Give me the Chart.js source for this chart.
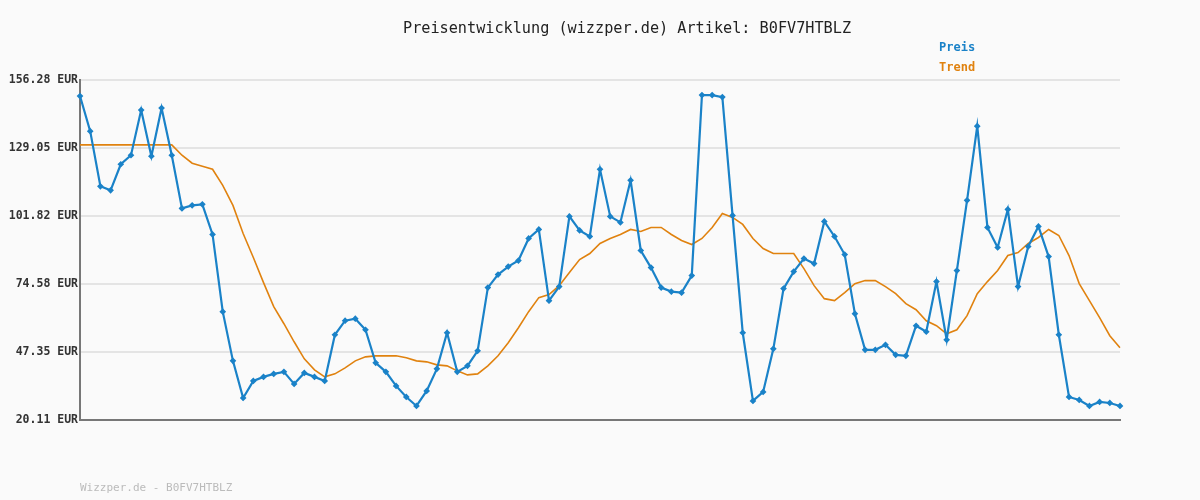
<!DOCTYPE html>
<html><head><meta charset="utf-8">
<script src="https://cdn.jsdelivr.net/npm/chart.js@4"></script>
<style>
body{margin:0;background:#fafafa;}
#wrap{position:relative;width:1200px;height:500px;}
.t{position:absolute;font-family:"DejaVu Sans Mono",monospace;white-space:nowrap;}
</style></head><body>
<div id="wrap">
<canvas id="c" width="1200" height="500"></canvas>
<div class="t" style="left:403px;top:19px;font-size:15.2px;color:#222;">Preisentwicklung (wizzper.de) Artikel: B0FV7HTBLZ</div>
<div class="t" style="left:939px;top:40px;font-size:12px;font-weight:bold;color:#1a82c8;">Preis</div>
<div class="t" style="left:939px;top:60px;font-size:12px;font-weight:bold;color:#e0820f;">Trend</div>
<div class="t" style="left:80px;top:481px;font-size:11px;color:#bbb;">Wizzper.de - B0FV7HTBLZ</div>
</div>
<script>
const categories = Array.from({length:103},(_, i)=>String(i+1));
const preis = [149.85,135.79,113.70,112.09,122.54,126.15,144.23,125.75,145.03,126.15,
104.86,106.07,106.47,94.42,63.49,43.80,28.94,35.77,37.38,38.58,
39.39,34.56,38.98,37.38,35.77,54.25,59.87,60.68,56.26,43.00,
39.39,33.76,29.34,25.73,31.75,40.59,55.05,39.39,41.80,47.82,
73.13,78.35,81.56,83.97,92.81,96.43,67.91,73.53,101.65,96.02,
93.61,120.53,101.65,99.24,116.11,87.99,81.16,73.13,71.52,71.12,
77.95,150.25,150.25,149.45,102.05,55.05,27.74,31.35,48.62,72.73,
79.56,84.78,82.77,99.64,93.61,86.38,62.68,48.22,48.22,50.23,
46.21,45.81,57.86,55.45,75.54,52.24,79.96,108.08,137.80,97.23,
89.20,104.46,73.53,89.60,97.63,85.58,54.25,29.34,28.14,25.73,
27.33,26.93,25.73];
const trend = [130.3,130.3,130.3,130.3,130.3,130.3,130.3,130.3,130.3,130.3,
126.15,122.94,121.73,120.53,114.10,106.07,94.82,85.18,75.14,65.50,
58.67,51.44,44.61,40.19,37.38,38.58,40.99,43.80,45.41,45.81,
45.81,45.81,45.01,43.80,43.40,42.20,41.80,39.79,38.18,38.58,
41.80,45.81,51.03,57.06,63.49,69.11,70.32,73.93,79.15,84.38,
86.79,90.80,92.81,94.42,96.43,95.63,97.23,97.23,94.42,92.01,
90.40,92.81,97.23,102.85,101.25,98.44,92.81,88.79,86.79,86.79,
86.79,80.76,73.93,68.71,67.91,71.12,74.73,75.94,75.94,73.53,
70.72,66.70,64.29,59.87,57.86,54.65,56.26,61.88,70.72,75.54,
79.96,85.98,87.19,90.80,93.21,96.43,94.02,85.98,74.73,67.91,
61.08,53.85,49.03];
const tickValues = [20.11,47.35,74.58,101.82,129.05,156.28];
const tickLabels = ["20.11 EUR","47.35 EUR","74.58 EUR","101.82 EUR","129.05 EUR","156.28 EUR"];

new Chart(document.getElementById('c'),{
  type:'line',
  data:{labels:categories,datasets:[
    {label:'Trend',data:trend,borderColor:'#e0820f',borderWidth:1.6,pointRadius:0,tension:0,order:2},
    {label:'Preis',data:preis,borderColor:'#1a82c8',backgroundColor:'#1a82c8',borderWidth:2.2,pointRadius:1.8,pointStyle:'rectRot',tension:0,order:1}
  ]},
  options:{
    responsive:false,animation:false,
    layout:{padding:{left:0,right:80,top:80,bottom:80}},
    plugins:{legend:{display:false},tooltip:{enabled:false}},
    scales:{
      x:{offset:false,ticks:{display:false},grid:{display:false,drawTicks:false},border:{color:'#777',width:2},afterFit:s=>{s.height=0;}},
      y:{min:20.11,max:156.28,
        afterBuildTicks:s=>{s.ticks=tickValues.map(v=>({value:v}));},
        ticks:{callback:(v,i)=>tickLabels[i],color:'#333',font:{family:'DejaVu Sans Mono',size:11.5,weight:'bold'},padding:2},
        grid:{color:'#e4e4e4',lineWidth:2,drawTicks:false},border:{color:'#777',width:2},
        afterFit:s=>{s.width=80;}}
    }
  }
});
</script>
</body></html>
